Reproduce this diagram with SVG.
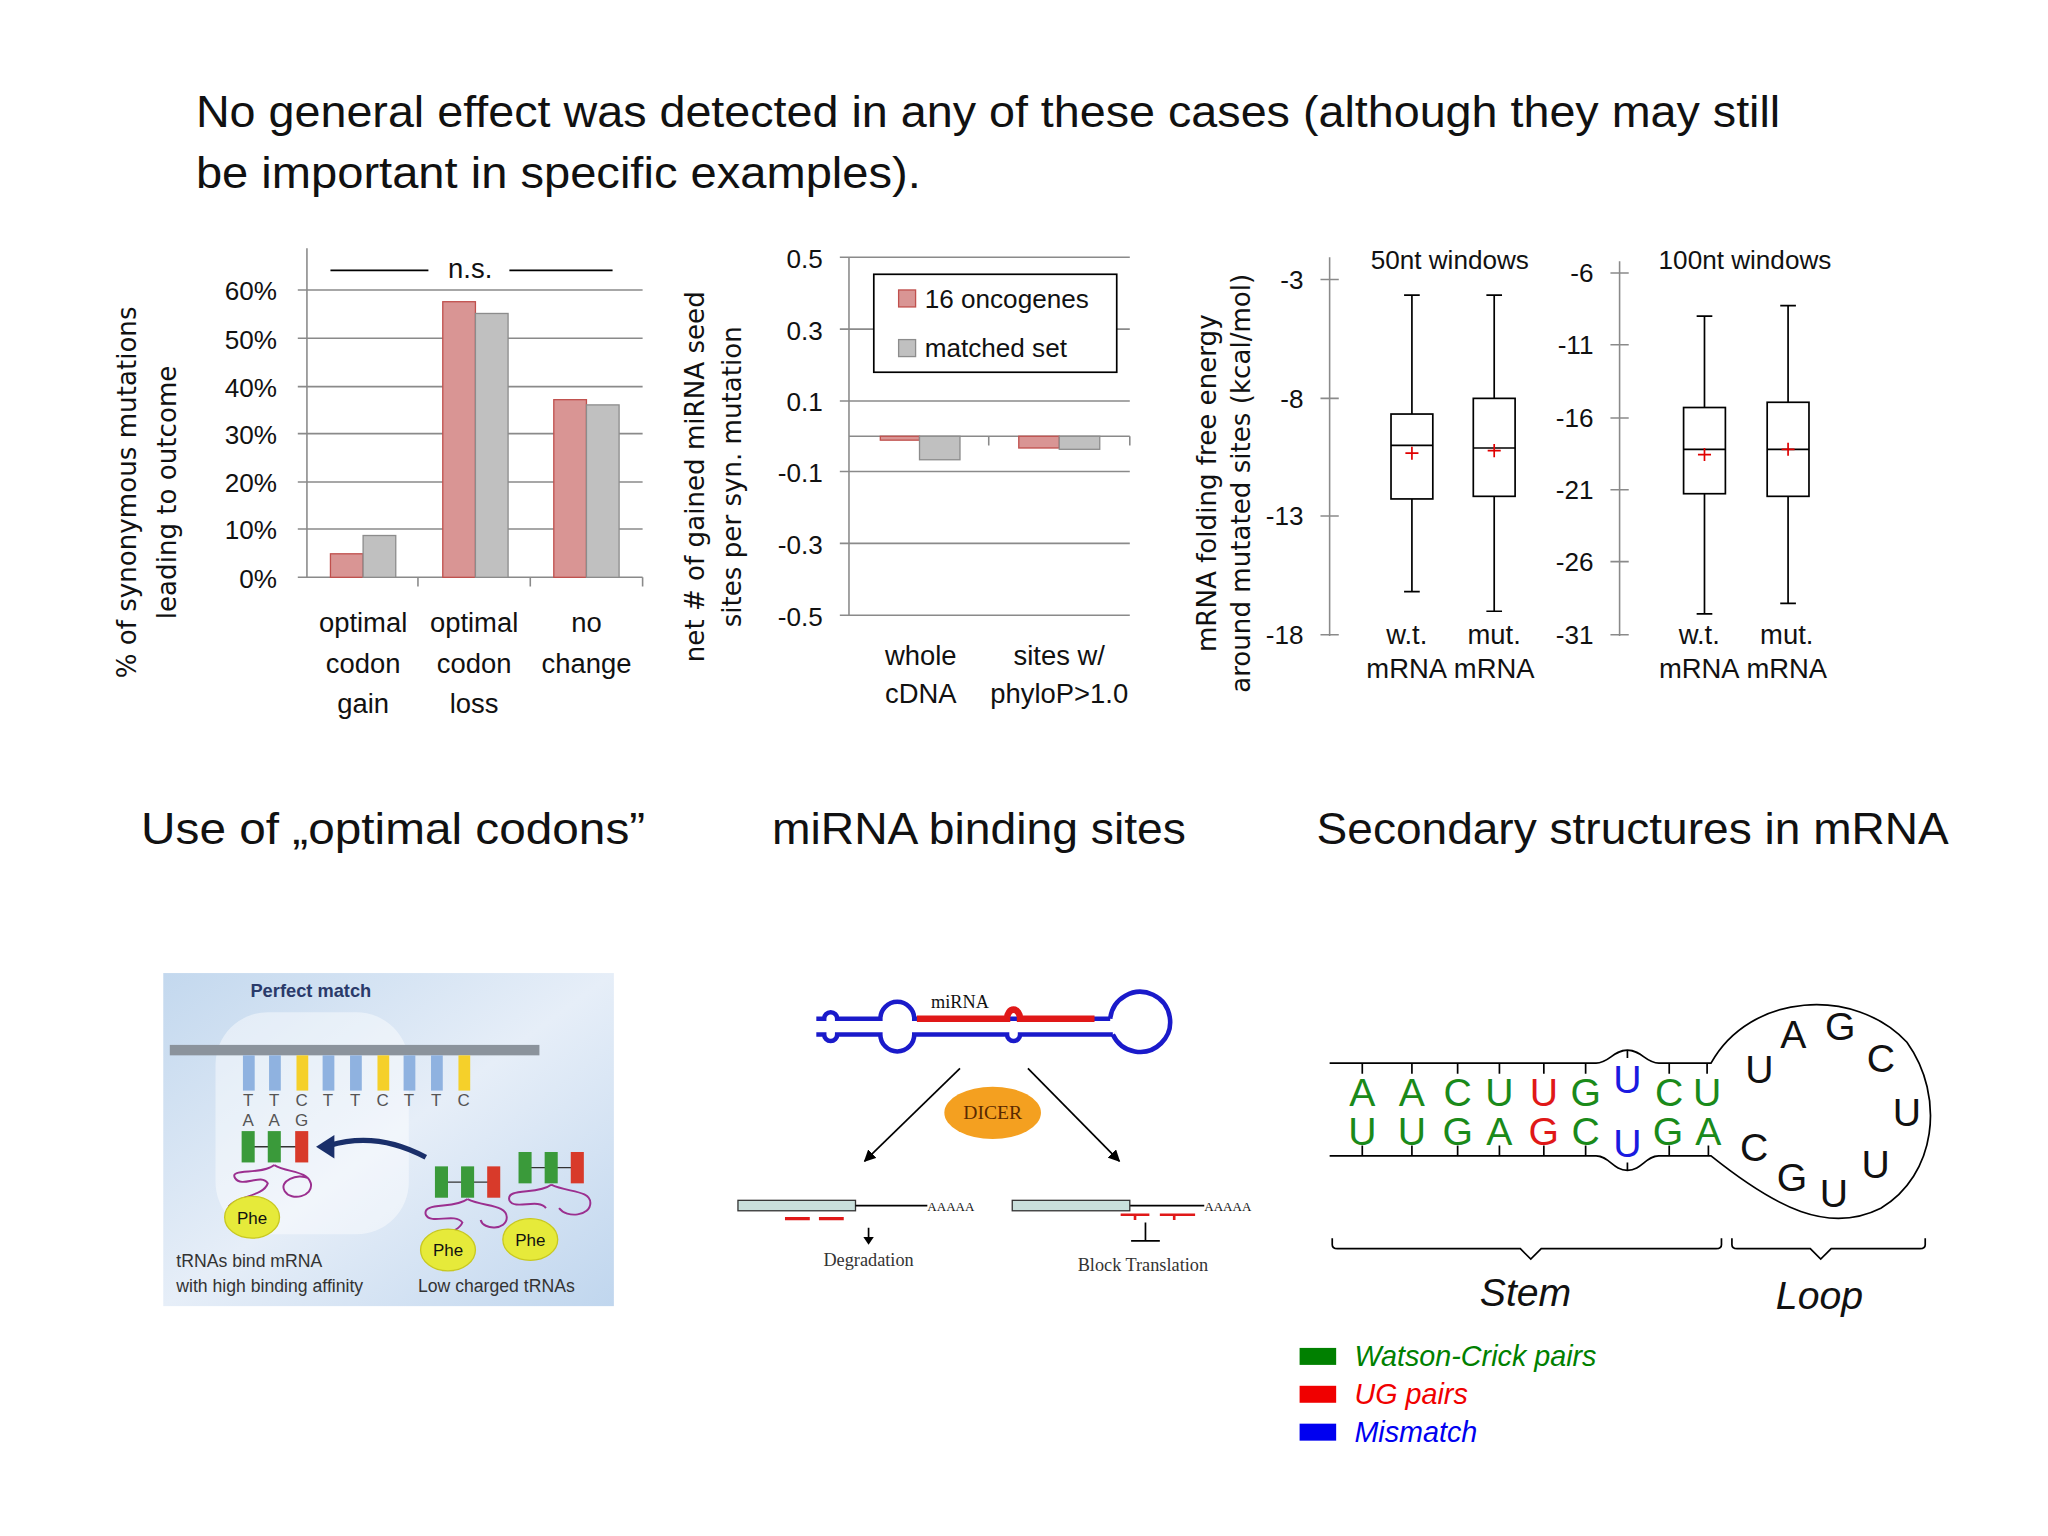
<svg xmlns="http://www.w3.org/2000/svg" width="2048" height="1536" viewBox="0 0 2048 1536">
<defs>
<style>
text{font-family:"Liberation Sans",Arial,sans-serif;fill:#111}
.t{font-size:34px}
.ax{font-size:20px}
.axr{font-size:20px;text-anchor:end}
.c{font-size:21px;text-anchor:middle}
.yt{font-size:20px;text-anchor:middle;font-family:"DejaVu Sans",sans-serif}
.g{stroke:#8a8a8a;stroke-width:1.2;fill:none}
.r{fill:#d99594;stroke:#c0504d;stroke-width:1}
.y{fill:#c0c0c0;stroke:#8c8c8c;stroke-width:1}
.bx{fill:#fff;stroke:#000;stroke-width:1.3}
.ln{stroke:#000;stroke-width:1.3;fill:none}
.mean{stroke:#e00000;stroke-width:1.3}
.sf{font-family:"Liberation Serif",serif}
.pm{fill:none;stroke:#9b2f8f;stroke-width:1.5}
</style>
<linearGradient id="bg" x1="0" y1="0" x2="1" y2="1"><stop offset="0" stop-color="#c3d8ee"/><stop offset="0.5" stop-color="#e6eef8"/><stop offset="1" stop-color="#c0d6ee"/></linearGradient>
<marker id="ah" viewBox="0 0 10 10" refX="9" refY="5" markerWidth="7" markerHeight="7" orient="auto"><path d="M0,0L10,5L0,10z" fill="#000"/></marker>
</defs>
<rect width="2048" height="1536" fill="#fff"/>
<g transform="scale(1.30612)">
<g id="title">
<text class="t" x="150" y="97" textLength="1213" lengthAdjust="spacingAndGlyphs">No general effect was detected in any of these cases (although they may still</text>
<text class="t" x="150" y="144" textLength="555" lengthAdjust="spacingAndGlyphs">be important in specific examples).</text>
</g>
<g id="chart1">
<path class="g" d="M235,190V442M228,222H492M228,259H492M228,296H492M228,332H492M228,369H492M228,405H492M228,442H492M320,442v7M406,442v7M492,442v7"/>
<g class="axr"><text x="212" y="230">60%</text><text x="212" y="267">50%</text><text x="212" y="304">40%</text><text x="212" y="340">30%</text><text x="212" y="377">20%</text><text x="212" y="413">10%</text><text x="212" y="450">0%</text></g>
<rect class="r" x="253" y="424" width="25" height="18"/><rect class="y" x="278" y="410" width="25" height="32"/>
<rect class="r" x="339" y="231" width="25" height="211"/><rect class="y" x="364" y="240" width="25" height="202"/>
<rect class="r" x="424" y="306" width="25" height="136"/><rect class="y" x="449" y="310" width="25" height="132"/>
<path class="ln" d="M253,207H328M390,207H469" stroke-width="1"/>
<text class="c" x="360" y="213">n.s.</text>
<text class="c" x="278" y="484">optimal</text><text class="c" x="278" y="515">codon</text><text class="c" x="278" y="546">gain</text>
<text class="c" x="363" y="484">optimal</text><text class="c" x="363" y="515">codon</text><text class="c" x="363" y="546">loss</text>
<text class="c" x="449" y="484">no</text><text class="c" x="449" y="515">change</text>
<text class="yt" transform="translate(104,377) rotate(-90)">% of synonymous mutations</text>
<text class="yt" transform="translate(135,377) rotate(-90)">leading to outcome</text>
</g>
<g id="chart2">
<path class="g" d="M650,197V471M643,197H865M643,252H865M643,307H865M643,361H865M643,416H865M643,471H865M650,334H865M757,334v7M865,334v7"/>
<g class="axr"><text x="630" y="205">0.5</text><text x="630" y="260">0.3</text><text x="630" y="315">0.1</text><text x="630" y="369">-0.1</text><text x="630" y="424">-0.3</text><text x="630" y="479">-0.5</text></g>
<rect class="r" x="674" y="334" width="30" height="3"/><rect class="y" x="704" y="334" width="31" height="18"/>
<rect class="r" x="780" y="334" width="31" height="9"/><rect class="y" x="811" y="334" width="31" height="10"/>
<rect x="669" y="210" width="186" height="75" fill="#fff" stroke="#000" stroke-width="1.3"/>
<rect class="r" x="688" y="222" width="13" height="13"/><text class="ax" x="708" y="236">16 oncogenes</text>
<rect class="y" x="688" y="260" width="13" height="13"/><text class="ax" x="708" y="273">matched set</text>
<text class="c" x="705" y="509">whole</text><text class="c" x="705" y="538">cDNA</text>
<text class="c" x="811" y="509">sites w/</text><text class="c" x="811" y="538">phyloP&gt;1.0</text>
<text class="yt" transform="translate(539,365) rotate(-90)">net # of gained miRNA seed</text>
<text class="yt" transform="translate(567,365) rotate(-90)">sites per syn. mutation</text>
</g>
<g id="chart3">
<path class="g" d="M1018,197V487M1011,214H1025M1011,305H1025M1011,395H1025M1011,486H1025"/>
<g class="axr"><text x="998" y="221">-3</text><text x="998" y="312">-8</text><text x="998" y="402">-13</text><text x="998" y="493">-18</text></g>
<text class="ax" x="1110" y="206" text-anchor="middle">50nt windows</text>
<path class="ln" d="M1081,226V317M1081,382V453M1075,226h12M1075,453h12"/><rect class="bx" x="1065" y="317" width="32" height="65"/><path class="ln" d="M1065,341h32"/><path class="mean" d="M1076,347h10M1081,342v10"/>
<path class="ln" d="M1144,226V305M1144,380V468M1138,226h12M1138,468h12"/><rect class="bx" x="1128" y="305" width="32" height="75"/><path class="ln" d="M1128,343h32"/><path class="mean" d="M1139,345h10M1144,340v10"/>
<text class="c" x="1077" y="493">w.t.</text><text class="c" x="1077" y="519">mRNA</text>
<text class="c" x="1144" y="493">mut.</text><text class="c" x="1144" y="519">mRNA</text>
<text class="yt" transform="translate(931,370) rotate(-90)">mRNA folding free energy</text>
<text class="yt" transform="translate(957,370) rotate(-90)">around mutated sites (kcal/mol)</text>
</g>
<g id="chart4">
<path class="g" d="M1240,200V487M1233,209H1247M1233,264H1247M1233,320H1247M1233,375H1247M1233,430H1247M1233,486H1247"/>
<g class="axr"><text x="1220" y="216">-6</text><text x="1220" y="271">-11</text><text x="1220" y="327">-16</text><text x="1220" y="382">-21</text><text x="1220" y="437">-26</text><text x="1220" y="493">-31</text></g>
<text class="ax" x="1336" y="206" text-anchor="middle">100nt windows</text>
<path class="ln" d="M1305,242V312M1305,378V470M1299,242h12M1299,470h12"/><rect class="bx" x="1289" y="312" width="32" height="66"/><path class="ln" d="M1289,344h32"/><path class="mean" d="M1300,348h10M1305,343v10"/>
<path class="ln" d="M1369,234V308M1369,380V462M1363,234h12M1363,462h12"/><rect class="bx" x="1353" y="308" width="32" height="72"/><path class="ln" d="M1353,344h32"/><path class="mean" d="M1364,344h10M1369,339v10"/>
<text class="c" x="1301" y="493">w.t.</text><text class="c" x="1301" y="519">mRNA</text>
<text class="c" x="1368" y="493">mut.</text><text class="c" x="1368" y="519">mRNA</text>
</g>
<g id="headings">
<text class="t" x="108" y="646" textLength="386" lengthAdjust="spacingAndGlyphs">Use of „optimal codons”</text>
<text class="t" x="591" y="646" textLength="317" lengthAdjust="spacingAndGlyphs">miRNA binding sites</text>
<text class="t" x="1008" y="646" textLength="484" lengthAdjust="spacingAndGlyphs">Secondary structures in mRNA</text>
</g>
<g id="codons">
<rect x="125" y="745" width="345" height="255" fill="url(#bg)"/>
<rect x="165" y="775" width="148" height="170" rx="40" fill="#fff" opacity="0.45"/>
<text x="238" y="763" font-size="14" font-weight="bold" text-anchor="middle" style="fill:#2a3a6a">Perfect match</text>
<rect x="130" y="800" width="283" height="8" fill="#8b939c"/>
<g>
<rect x="186" y="808" width="9" height="27" fill="#8fb2e0"/><rect x="206" y="808" width="9" height="27" fill="#8fb2e0"/><rect x="227" y="808" width="9" height="27" fill="#f5d02a"/>
<rect x="247" y="808" width="9" height="27" fill="#8fb2e0"/><rect x="268" y="808" width="9" height="27" fill="#8fb2e0"/><rect x="289" y="808" width="9" height="27" fill="#f5d02a"/>
<rect x="309" y="808" width="9" height="27" fill="#8fb2e0"/><rect x="330" y="808" width="9" height="27" fill="#8fb2e0"/><rect x="351" y="808" width="9" height="27" fill="#f5d02a"/>
</g>
<g font-size="13" text-anchor="middle">
<text x="190" y="847" style="fill:#555">T</text><text x="210" y="847" style="fill:#555">T</text><text x="231" y="847" style="fill:#555">C</text><text x="251" y="847" style="fill:#555">T</text><text x="272" y="847" style="fill:#555">T</text><text x="293" y="847" style="fill:#555">C</text><text x="313" y="847" style="fill:#555">T</text><text x="334" y="847" style="fill:#555">T</text><text x="355" y="847" style="fill:#555">C</text>
<text x="190" y="862" style="fill:#555">A</text><text x="210" y="862" style="fill:#555">A</text><text x="231" y="862" style="fill:#555">G</text>
</g>
<path d="M190,878H231M338,905H378M402,894H442" stroke="#333" stroke-width="1"/>
<rect x="185" y="866" width="10" height="24" fill="#3a9a3a"/><rect x="205" y="866" width="10" height="24" fill="#3a9a3a"/><rect x="226" y="866" width="10" height="24" fill="#d83a2a"/>
<rect x="333" y="893" width="10" height="24" fill="#3a9a3a"/><rect x="353" y="893" width="10" height="24" fill="#3a9a3a"/><rect x="373" y="893" width="10" height="24" fill="#d83a2a"/>
<rect x="397" y="882" width="10" height="24" fill="#3a9a3a"/><rect x="417" y="882" width="10" height="24" fill="#3a9a3a"/><rect x="437" y="882" width="10" height="24" fill="#d83a2a"/>
<path d="M326,886C300,872 275,870 252,877" fill="none" stroke="#1a2f6a" stroke-width="4"/>
<path d="M242,878L256,869L256,887z" fill="#1a2f6a"/>
<path class="pm" d="M210,892c-10,8 -35,2 -30,10c5,8 20,-4 25,4c-3,10 -25,10 -30,18M210,892c10,6 25,4 28,14c2,10 -15,14 -20,6c-5,-8 10,-14 18,-10"/>
<path class="pm" d="M358,918c-10,8 -35,2 -32,12c4,8 22,-2 28,6c-3,8 -20,10 -25,16M358,918c12,6 30,4 30,14c0,10 -18,10 -20,2M422,907c-10,8 -35,2 -32,12c4,8 22,-2 28,6M422,907c12,6 30,4 30,14c0,10 -18,12 -24,4"/>
<ellipse cx="193" cy="932" rx="21" ry="16" fill="#e6ea3a" stroke="#c8c820"/><text x="193" y="937" font-size="13" text-anchor="middle">Phe</text>
<ellipse cx="343" cy="957" rx="21" ry="16" fill="#e6ea3a" stroke="#c8c820"/><text x="343" y="962" font-size="13" text-anchor="middle">Phe</text>
<ellipse cx="406" cy="949" rx="21" ry="16" fill="#e6ea3a" stroke="#c8c820"/><text x="406" y="954" font-size="13" text-anchor="middle">Phe</text>
<g font-size="13.5"><text x="135" y="970" style="fill:#333">tRNAs bind mRNA</text><text x="135" y="989" style="fill:#333">with high binding affinity</text><text x="320" y="989" style="fill:#333">Low charged tRNAs</text></g>
</g>
<g id="mirna">
<path d="M625,780H631a5,5 0 0 1 10,0H674a13,13 0 0 1 26,0H850" fill="none" stroke="#1a1aca" stroke-width="3.5"/>
<path d="M625,792H631a5,5 0 0 0 10,0H674a13,13 0 0 0 26,0H771a5,5 0 0 0 10,0H852" fill="none" stroke="#1a1aca" stroke-width="3.5"/>
<path d="M850,780A23,23 0 1 1 852,792" fill="none" stroke="#1a1aca" stroke-width="3.5"/>
<path d="M702,780H771a5,7 0 0 1 10,0H838" fill="none" stroke="#e01818" stroke-width="5"/>
<text class="sf" x="735" y="772" font-size="14" text-anchor="middle">miRNA</text>
<path class="ln" d="M735,818L662,889" stroke-width="2" marker-end="url(#ah)"/>
<path class="ln" d="M787,818L857,889" stroke-width="2" marker-end="url(#ah)"/>
<ellipse cx="760" cy="852" rx="37" ry="20" fill="#f4a020"/>
<text class="sf" x="760" y="857" font-size="15" text-anchor="middle" style="fill:#5a2a00">DICER</text>
<rect x="565" y="919" width="90" height="8" fill="#c9e0dc" stroke="#333"/>
<path class="ln" d="M655,923H710M865,923H922" stroke-width="2"/>
<text class="sf" x="710" y="927" font-size="10">AAAAA</text><text class="sf" x="922" y="927" font-size="10">AAAAA</text>
<path d="M601,933h19M627,933h19" stroke="#e01818" stroke-width="2.5"/>
<path class="ln" d="M665,940V949"/><path d="M661,947L665,953L669,947z"/>
<text class="sf" x="665" y="969" font-size="14" text-anchor="middle" style="fill:#333">Degradation</text>
<rect x="775" y="919" width="90" height="8" fill="#c9e0dc" stroke="#333"/>
<path d="M858,930h22M888,930h27M869,930v4M899,930v4" stroke="#e01818" stroke-width="2"/>
<path class="ln" d="M877,936V950M866,950H888" stroke-width="2"/>
<text class="sf" x="875" y="973" font-size="14" text-anchor="middle" style="fill:#333">Block Translation</text>
</g>
<g id="hairpin">
<path class="ln" d="M1018,814H1222C1232,814 1235,804 1246,804C1257,804 1260,814 1270,814H1310C1340,760 1420,755 1460,798C1490,840 1482,900 1440,925C1400,945 1360,925 1310,885H1270C1260,885 1257,896 1246,896C1235,896 1232,885 1222,885H1018" stroke-width="1.5"/>
<path class="ln" d="M1043,814v8M1081,814v8M1116,814v8M1148,814v8M1182,814v8M1214,814v8M1278,814v8M1307,814v8M1043,885v-8M1081,885v-8M1116,885v-8M1148,885v-8M1182,885v-8M1214,885v-8M1278,885v-8M1308,885v-8M1246,804v6M1246,896v-6" stroke-width="1"/>
<g font-size="30" text-anchor="middle">
<text x="1043" y="847" style="fill:#1a8a1a">A</text><text x="1081" y="847" style="fill:#1a8a1a">A</text><text x="1116" y="847" style="fill:#1a8a1a">C</text><text x="1148" y="847" style="fill:#1a8a1a">U</text><text x="1182" y="847" style="fill:#e01818">U</text><text x="1214" y="847" style="fill:#1a8a1a">G</text><text x="1246" y="837" style="fill:#1a1ae0">U</text><text x="1278" y="847" style="fill:#1a8a1a">C</text><text x="1307" y="847" style="fill:#1a8a1a">U</text>
<text x="1043" y="877" style="fill:#1a8a1a">U</text><text x="1081" y="877" style="fill:#1a8a1a">U</text><text x="1116" y="877" style="fill:#1a8a1a">G</text><text x="1148" y="877" style="fill:#1a8a1a">A</text><text x="1182" y="877" style="fill:#e01818">G</text><text x="1214" y="877" style="fill:#1a8a1a">C</text><text x="1246" y="886" style="fill:#1a1ae0">U</text><text x="1277" y="877" style="fill:#1a8a1a">G</text><text x="1308" y="877" style="fill:#1a8a1a">A</text>
</g>
<g font-size="30" text-anchor="middle">
<text x="1347" y="829">U</text><text x="1373" y="802">A</text><text x="1409" y="796">G</text><text x="1440" y="821">C</text><text x="1460" y="862">U</text><text x="1436" y="902">U</text><text x="1404" y="924">U</text><text x="1372" y="912">G</text><text x="1343" y="889">C</text>
</g>
<path class="ln" d="M1020,948v5q0,3 4,3H1164l8,8l8,-8H1314q4,0 4,-3v-5M1326,948v5q0,3 4,3H1386l8,8l8,-8H1470q4,0 4,-3v-5" stroke-width="1.5"/>
<text x="1168" y="1000" font-size="30" font-style="italic" text-anchor="middle">Stem</text>
<text x="1393" y="1002" font-size="30" font-style="italic" text-anchor="middle">Loop</text>
<rect x="995" y="1032" width="28" height="13" fill="#008000"/><rect x="995" y="1061" width="28" height="13" fill="#f00000"/><rect x="995" y="1090" width="28" height="13" fill="#0000f0"/>
<g font-size="22" font-style="italic"><text x="1037" y="1046" style="fill:#008000">Watson-Crick pairs</text><text x="1037" y="1075" style="fill:#f00000">UG pairs</text><text x="1037" y="1104" style="fill:#0000f0">Mismatch</text></g>
</g>
</g>
</svg>
